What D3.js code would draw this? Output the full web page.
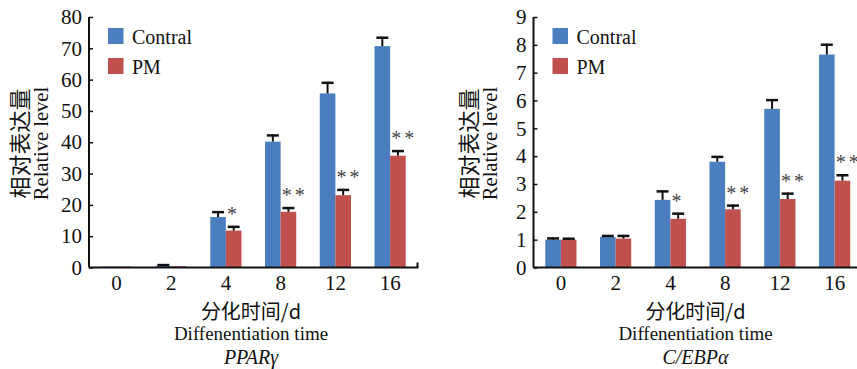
<!DOCTYPE html>
<html>
<head>
<meta charset="utf-8">
<script src="https://cdn.jsdelivr.net/npm/d3@7"></script>
<style>
    body { margin: 0; background: #fff; }
</style>
</head>
<body>
<svg width="857" height="369"></svg>
<script>
const categories = ["0", "2", "4", "8", "12", "16"];
const seriesNames = ["Contral", "PM"];

const pparControl = [0.3, 0.5, 16.1, 40.2, 55.6, 70.7];
const pparControlErr = [0, 0.6, 1.9, 2.3, 3.7, 3.0];
const pparPM = [0.3, 0.4, 11.8, 17.8, 23.1, 35.7];
const pparPMErr = [0, 0, 1.5, 1.5, 2.0, 1.8];
const pparSig = ["", "", "*", "**", "**", "**"];
const pparTicks = [0, 10, 20, 30, 40, 50, 60, 70, 80];

const cebpControl = [1.0, 1.1, 2.43, 3.8, 5.7, 7.65];
const cebpControlErr = [0.08, 0.07, 0.34, 0.21, 0.35, 0.39];
const cebpPM = [1.0, 1.04, 1.75, 2.09, 2.46, 3.12];
const cebpPMErr = [0.07, 0.13, 0.22, 0.17, 0.23, 0.23];
const cebpSig = ["", "", "*", "**", "**", "**"];
const cebpTicks = [0, 1, 2, 3, 4, 5, 6, 7, 8, 9];

const colors = ["#4a7ebf", "#c0504d"];
const SERIF = '"Liberation Serif", "Times New Roman"';
const CJK = '"Noto Sans CJK SC"';

const svg = d3.select("svg");

function drawPanel(opts) {
    const g = svg.append("g");
    const x = d3.scaleBand().domain(categories).range([opts.left, opts.left + 328.5]).padding(0);
    const y = d3.scaleLinear().domain([0, opts.max]).range([267.5, 17]);
    const barW = 15.6;

    // bars + error bars
    const series = [
        {vals: opts.control, errs: opts.controlErr},
        {vals: opts.pm, errs: opts.pmErr}
    ];
    series.forEach((s, si) => {
        const bx = (d, i) => x(categories[i]) + x.bandwidth() / 2 - barW + si * barW;
        g.selectAll(".bar" + si)
            .data(s.vals)
            .enter().append("rect")
            .attr("x", bx)
            .attr("y", d => y(d))
            .attr("width", barW)
            .attr("height", d => y(0) - y(d))
            .attr("fill", colors[si]);

        s.vals.forEach((d, i) => {
            if (!s.errs[i]) return;
            const cx = bx(d, i) + barW / 2;
            const top = y(d + s.errs[i]);
            g.append("line")
                .attr("x1", cx).attr("x2", cx)
                .attr("y1", y(d)).attr("y2", top)
                .attr("stroke", "#111").attr("stroke-width", 2);
            g.append("line")
                .attr("x1", cx - 6).attr("x2", cx + 6)
                .attr("y1", top + 1).attr("y2", top + 1)
                .attr("stroke", "#111").attr("stroke-width", 2.5);
        });
    });

    // significance marks
    opts.sig.forEach((t, i) => {
        if (!t) return;
        const bx = x(categories[i]) + x.bandwidth() / 2;
        g.append("text")
            .attr("x", bx + 1)
            .attr("y", y(opts.pm[i] + opts.pmErr[i]) - 12)
            .attr("dominant-baseline", "central")
            .attr("letter-spacing", t.length > 1 ? "3px" : "0px")
            .style("font-family", SERIF)
            .style("font-size", "20px")
            .style("fill", "#444")
            .text(t);
    });

    // y axis
    const yAxis = g.append("g")
        .attr("transform", `translate(${opts.left},0)`)
        .call(d3.axisLeft(y).tickValues(opts.ticks).tickSize(-4).tickPadding(7));
    yAxis.select(".domain").attr("stroke", "#111").attr("stroke-width", 2).attr("d", `M0,${y(opts.max)}V${y(0)}`);
    yAxis.selectAll(".tick line").attr("stroke", "#111").attr("stroke-width", 1.5);
    yAxis.selectAll(".tick text").style("font-family", SERIF).style("font-size", "21px").attr("fill", "#111");

    // x axis
    const xAxis = g.append("g")
        .attr("transform", `translate(0,${y(0)})`)
        .call(d3.axisBottom(x).tickSize(0).tickPadding(8));
    xAxis.select(".domain").attr("stroke", "#111").attr("stroke-width", 2)
        .attr("d", `M${opts.left},0H${opts.left + 328.5}V-5`);
    xAxis.selectAll(".tick text").style("font-family", SERIF).style("font-size", "21px").attr("fill", "#111");

    // legend
    seriesNames.forEach((n, i) => {
        g.append("rect")
            .attr("x", opts.left + 19).attr("y", 28 + i * 30)
            .attr("width", 15.5).attr("height", 16)
            .attr("fill", colors[i]);
        g.append("text")
            .attr("x", opts.left + 43).attr("y", 37 + i * 30)
            .attr("dominant-baseline", "central")
            .style("font-family", SERIF)
            .style("font-size", "20px")
            .style("fill", "#111")
            .text(n);
    });

    // y title
    const ty = g.append("g").attr("transform", `translate(${opts.titleX},143.5) rotate(-90)`);
    ty.append("text").attr("x", 0).attr("y", 0).attr("text-anchor", "middle")
        .attr("dominant-baseline", "central")
        .style("font-family", CJK).style("fill", "#111")
        .style("font-size", "22px").text("相对表达量");
    ty.append("text").attr("x", 0).attr("y", 23).attr("text-anchor", "middle")
        .attr("dominant-baseline", "central")
        .style("font-family", SERIF).style("fill", "#111")
        .style("font-size", "20.5px").text("Relative level");

    // x titles
    const cx = opts.left + 162;
    g.append("text").attr("x", cx).attr("y", 310).attr("text-anchor", "middle")
        .attr("dominant-baseline", "central")
        .style("font-family", CJK).style("fill", "#111")
        .style("font-size", "20px").text("分化时间/d");
    g.append("text").attr("x", cx).attr("y", 333).attr("text-anchor", "middle")
        .attr("dominant-baseline", "central")
        .style("font-family", SERIF).style("fill", "#111")
        .style("font-size", "19px").text("Diffenentiation time");
    g.append("text").attr("x", cx).attr("y", 357).attr("text-anchor", "middle")
        .attr("dominant-baseline", "central")
        .style("font-family", SERIF).style("fill", "#111")
        .style("font-size", "20px").style("font-style", "italic").text(opts.title);
}

drawPanel({
    left: 89, max: 80, ticks: pparTicks,
    control: pparControl, controlErr: pparControlErr,
    pm: pparPM, pmErr: pparPMErr, sig: pparSig,
    titleX: 18, title: "PPARγ"
});

drawPanel({
    left: 533.5, max: 9, ticks: cebpTicks,
    control: cebpControl, controlErr: cebpControlErr,
    pm: cebpPM, pmErr: cebpPMErr, sig: cebpSig,
    titleX: 467, title: "C/EBPα"
});
</script>
</body>
</html>
